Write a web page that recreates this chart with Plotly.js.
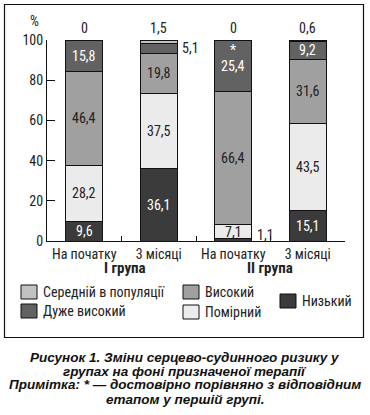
<!DOCTYPE html>
<html><head><meta charset="utf-8">
<script src="https://cdn.plot.ly/plotly-3.0.1.min.js"></script>
<style>body{margin:0;background:#fff}#c{width:370px;height:415px}</style>
</head><body><div id="c"></div>
<script>
const categories = ["На початку", "3 місяці", "На початку", "3 місяці"];
const groups = ["I група", "II група"];
const seriesNames = ["Низький", "Помірний", "Високий", "Дуже високий", "Середній в популяції"];
const nyzkyi      = [9.6, 36.1, 1.1, 15.1];
const pomirnyi    = [28.2, 37.5, 7.1, 43.5];
const vysokyi     = [46.4, 19.8, 66.4, 31.6];
const duzheVys    = [15.8, 5.1, 25.4, 9.2];
const seredniy    = [0, 1.5, 0, 0.6];
const yTicks = [0, 20, 40, 60, 80, 100];

const series = [nyzkyi, pomirnyi, vysokyi, duzheVys, seredniy];
const colors = ["#3b3b3b", "#ebebeb", "#a0a0a0", "#626262", "#c2c2c2"];
const txtColors = ["#ffffff", "#222222", "#222222", "#ffffff", "#222222"];
const FONT = "Roboto Condensed, Liberation Sans, Arial, sans-serif";
const fmt = v => String(v).replace('.', ',');
const xs = categories.map((_, i) => i);

const traces = series.map((vals, k) => ({
  type: 'bar', x: xs, y: vals, name: seriesNames[k],
  marker: {color: colors[k], line: {color: '#111', width: 1}},
  width: 0.5, showlegend: false, hoverinfo: 'skip'
}));
traces.push({type: 'scatter', x: [], y: [], xaxis: 'x2', showlegend: false});

const A = o => Object.assign({showarrow: false, xanchor: 'center', yanchor: 'middle'}, o);
const ann = [];
for (let i = 0; i < xs.length; i++) {
  let base = 0;
  for (let k = 0; k < 4; k++) {
    const v = series[k][i];
    const mid = base + v / 2;
    if (v >= 7) {
      ann.push(A({x: i, y: mid, xref: 'x', yref: 'y', text: fmt(v),
        font: {family: FONT, size: 14, color: txtColors[k]}}));
    } else {
      ann.push(A({x: i + 0.25, y: mid, xref: 'x', yref: 'y', text: fmt(v),
        xanchor: 'left', xshift: 3, yshift: k === 0 ? 5 : 0, font: {family: FONT, size: 14, color: '#222'}}));
    }
    base += v;
  }
  ann.push(A({x: i, y: 100, xref: 'x', yref: 'y', text: fmt(seredniy[i]),
    yanchor: 'bottom', yshift: 2, font: {family: FONT, size: 14, color: '#222'}}));
}
ann.push(A({x: 2, y: nyzkyi[2] + pomirnyi[2] + vysokyi[2] + duzheVys[2] / 2, xref: 'x', yref: 'y',
  text: '*', yshift: 16, font: {family: FONT, size: 14, color: '#fff'}}));

const px = x => (x - 47) / 298, py = y => (241 - y) / 201;
ann.push(A({x: px(34), y: py(21), xref: 'paper', yref: 'paper', text: '%',
  font: {family: FONT, size: 14, color: '#222'}}));
ann.push(A({x: px(125), y: py(268), xref: 'paper', yref: 'paper', text: '<b>' + groups[0] + '</b>',
  font: {family: FONT, size: 15, color: '#222'}}));
ann.push(A({x: px(270), y: py(268), xref: 'paper', yref: 'paper', text: '<b>' + groups[1] + '</b>',
  font: {family: FONT, size: 15, color: '#222'}}));

const shapes = [];
const legendItems = [
  {k: 4, x: 21, y: 292}, {k: 3, x: 21, y: 311},
  {k: 2, x: 183, y: 292}, {k: 1, x: 183, y: 312}, {k: 0, x: 280, y: 301}
];
legendItems.forEach(it => {
  shapes.push({type: 'rect', xref: 'paper', yref: 'paper', x0: px(it.x), x1: px(it.x + 16),
    y0: py(it.y - 7), y1: py(it.y + 7), fillcolor: colors[it.k], line: {color: '#111', width: 1}});
  ann.push(A({x: px(it.x + 20), y: py(it.y), xref: 'paper', yref: 'paper', xanchor: 'left',
    text: seriesNames[it.k], font: {family: FONT, size: 14, color: '#222'}}));
});
shapes.push({type: 'rect', xref: 'paper', yref: 'paper', x0: px(4.5), x1: px(363.5), y0: py(4.5), y1: py(337.5),
  line: {color: '#111', width: 1.2}, fillcolor: 'rgba(0,0,0,0)'});

const caption = ["Рисунок 1. Зміни серцево-судинного ризику у", "групах на фоні призначеної терапії",
  "Примітка: * — достовірно порівняно з відповідним", "етапом у першій групі."];
const capY = [357, 371, 385, 399];
caption.forEach((t, i) => ann.push(A({x: px(185), y: py(capY[i]), xref: 'paper', yref: 'paper',
  text: '<b><i>' + t + '</i></b>', font: {family: "Liberation Sans, Arial, sans-serif", size: 13.5, color: '#111'}})));

const layout = {
  width: 370, height: 415, margin: {l: 47, r: 25, t: 40, b: 174},
  paper_bgcolor: '#fff', plot_bgcolor: '#fff', barmode: 'stack', showlegend: false,
  xaxis: {range: [-0.5, 3.5], tickvals: xs, ticktext: categories, ticks: '', showgrid: false,
    zeroline: false, showline: true, linecolor: '#111', linewidth: 1,
    tickfont: {family: FONT, size: 14, color: '#222'}, fixedrange: true},
  xaxis2: {range: [-0.5, 3.5], overlaying: 'x', tickvals: [0.5, 1.5, 2.5, 3.5], ticks: 'inside',
    ticklen: 5, tickcolor: '#111', showticklabels: false, showgrid: false, zeroline: false, side: 'bottom'},
  yaxis: {range: [0, 100], tickvals: yTicks, ticks: 'inside', ticklen: 8, tickcolor: '#111',
    showgrid: false, zeroline: false, showline: true, linecolor: '#111', linewidth: 1,
    tickfont: {family: FONT, size: 14, color: '#222'}, fixedrange: true},
  annotations: ann, shapes: shapes
};
Plotly.newPlot('c', traces, layout, {staticPlot: true, displayModeBar: false});
</script></body></html>
